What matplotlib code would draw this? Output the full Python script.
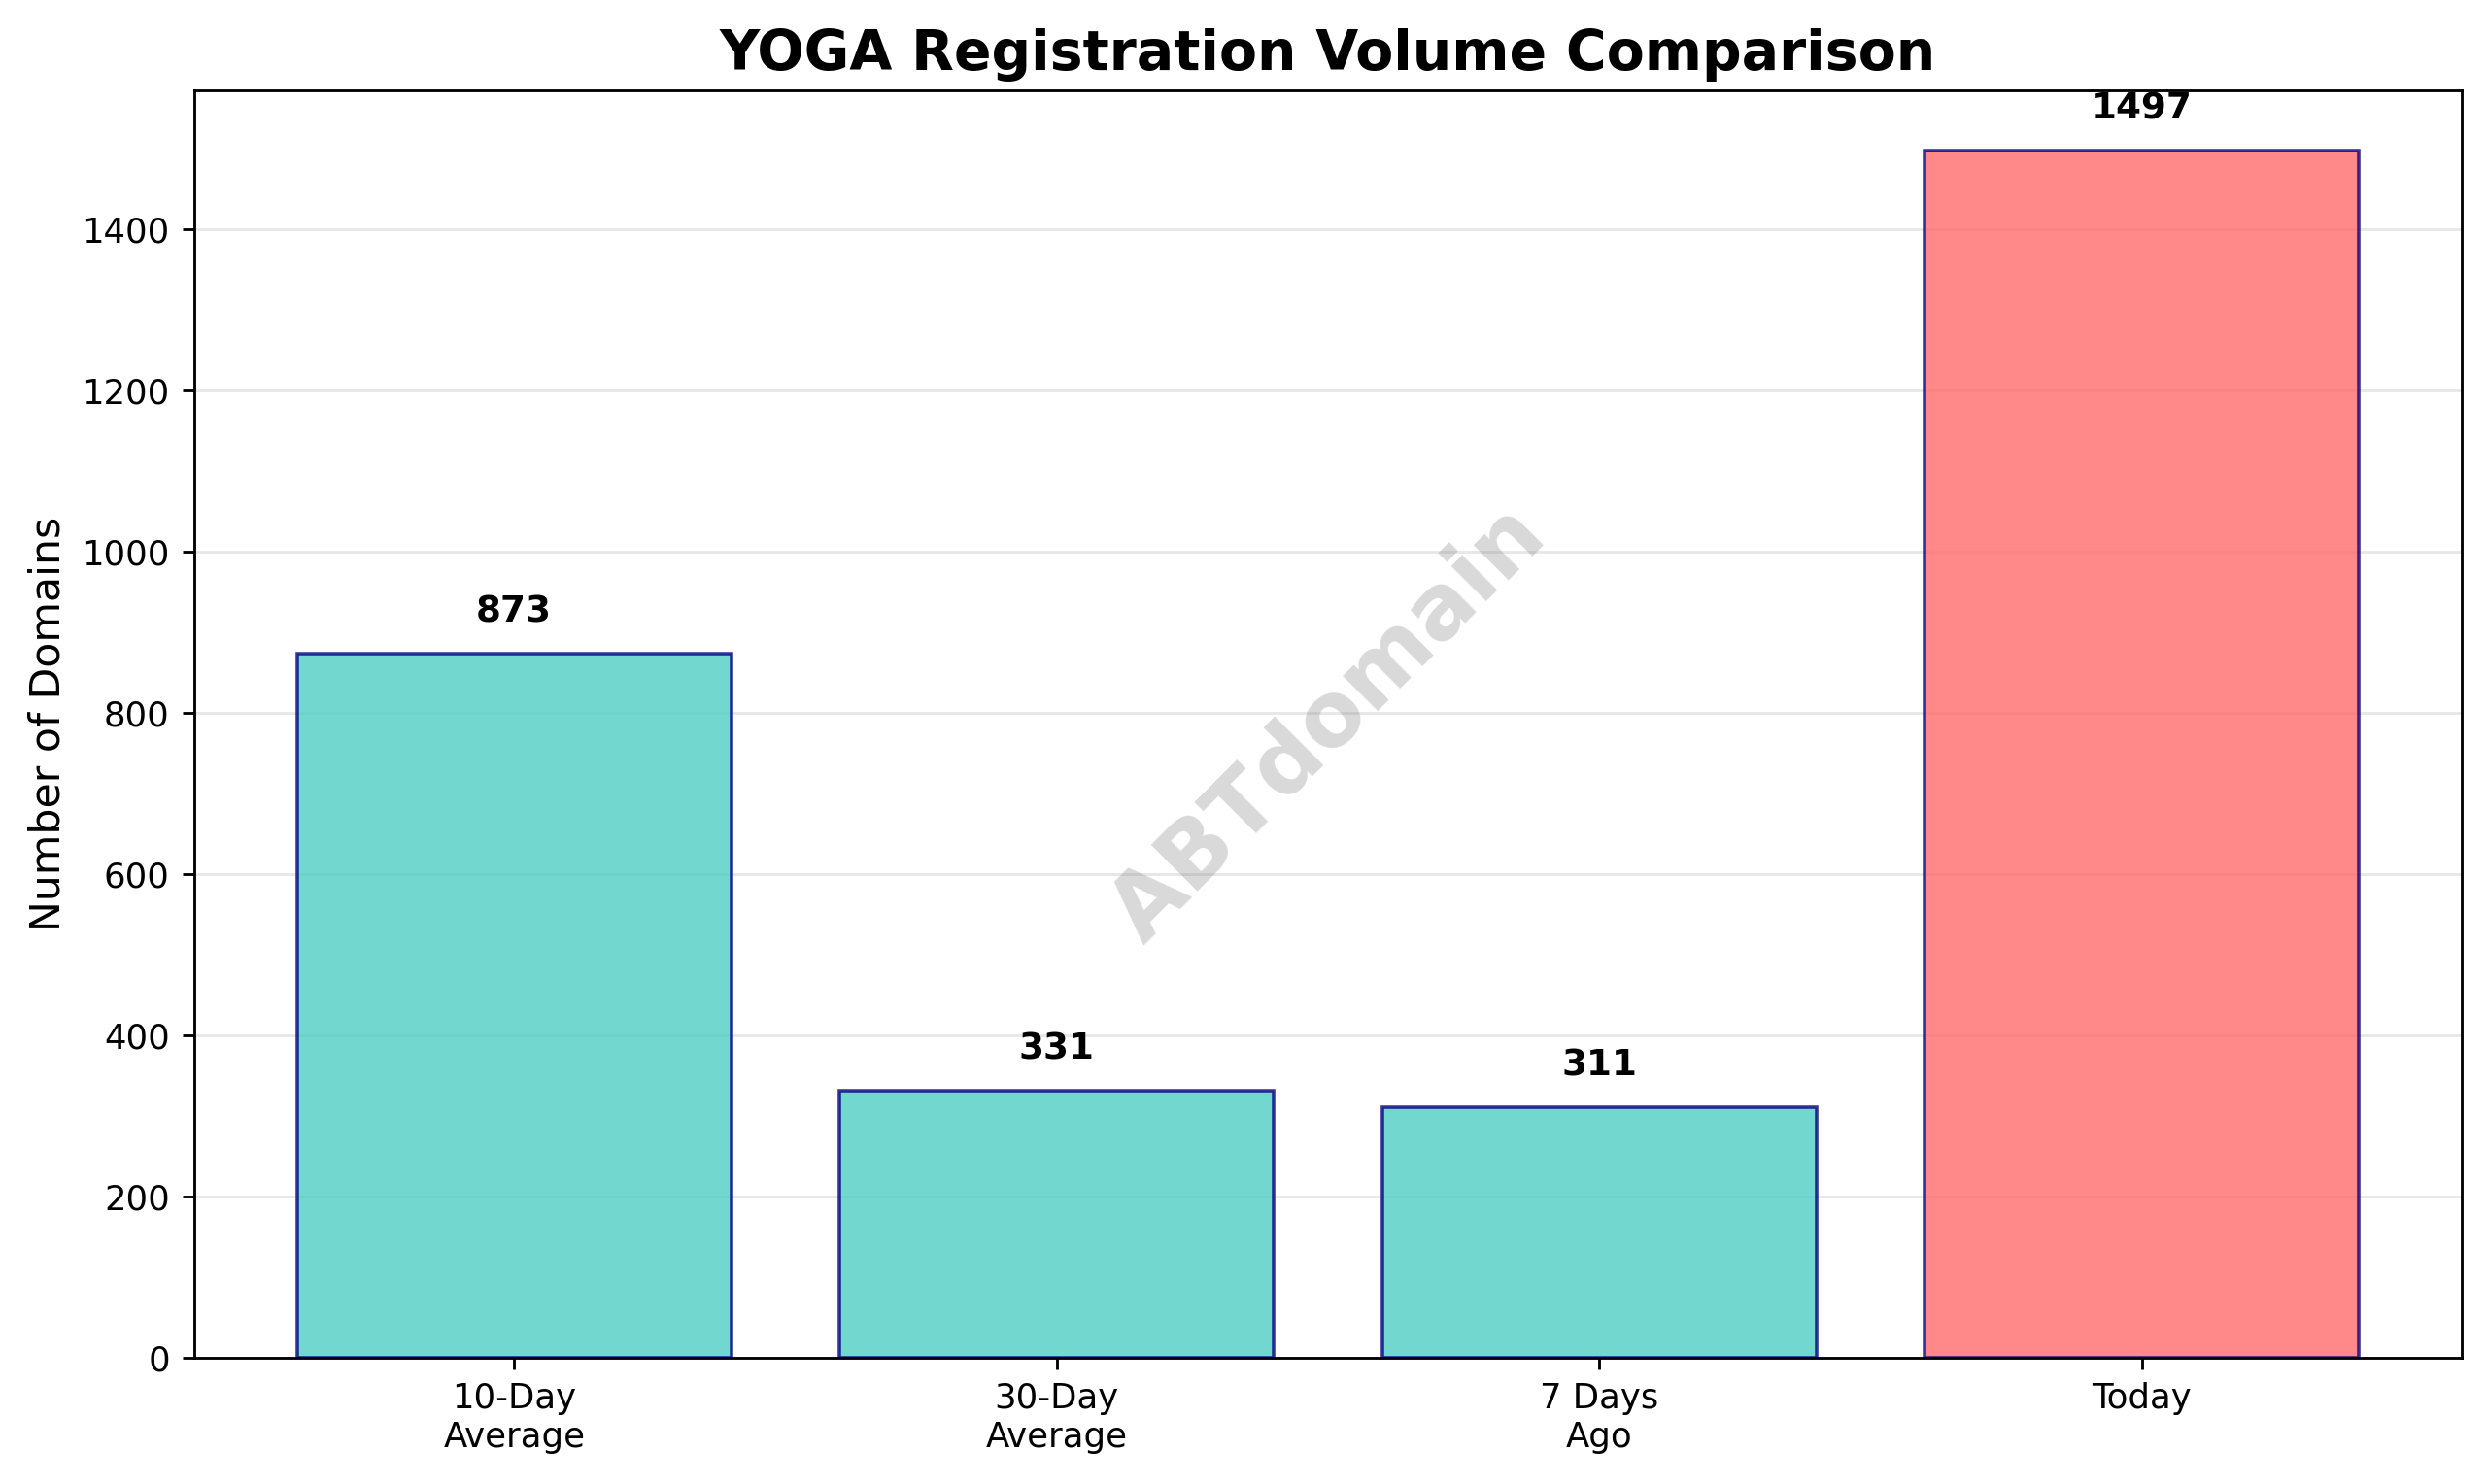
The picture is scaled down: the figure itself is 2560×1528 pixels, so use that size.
import matplotlib
matplotlib.use("Agg")
import matplotlib.pyplot as plt

categories = ['10-Day\nAverage', '30-Day\nAverage', '7 Days\nAgo', 'Today']
values = [873, 331, 311, 1497]
colors = ['#4ECDC4', '#4ECDC4', '#4ECDC4', '#FF6B6B']

fig = plt.figure(figsize=(10, 5.97), dpi=256)
ax = fig.add_axes([0.078, 0.085, 0.912, 0.854])

bars = ax.bar(categories, values, color=colors, alpha=0.8, edgecolor='navy', linewidth=1)
for b, v in zip(bars, values):
    ax.text(b.get_x() + b.get_width() / 2, v + 30, str(v), ha='center', va='bottom',
            fontweight='bold', fontsize=10.5)

ax.set_ylim(0, max(values) * 1.05)
ax.set_ylabel('Number of Domains', fontsize=12)
ax.set_title('YOGA Registration Volume Comparison', fontsize=16, fontweight='bold')
ax.grid(axis='y', alpha=0.3)
ax.set_axisbelow(True)

ax.text(0.5, 0.5, 'ABTdomain', transform=ax.transAxes, fontsize=26, color='gray',
        alpha=0.3, rotation=45, ha='center', va='center', fontweight='bold')

fig.savefig('out.png')
